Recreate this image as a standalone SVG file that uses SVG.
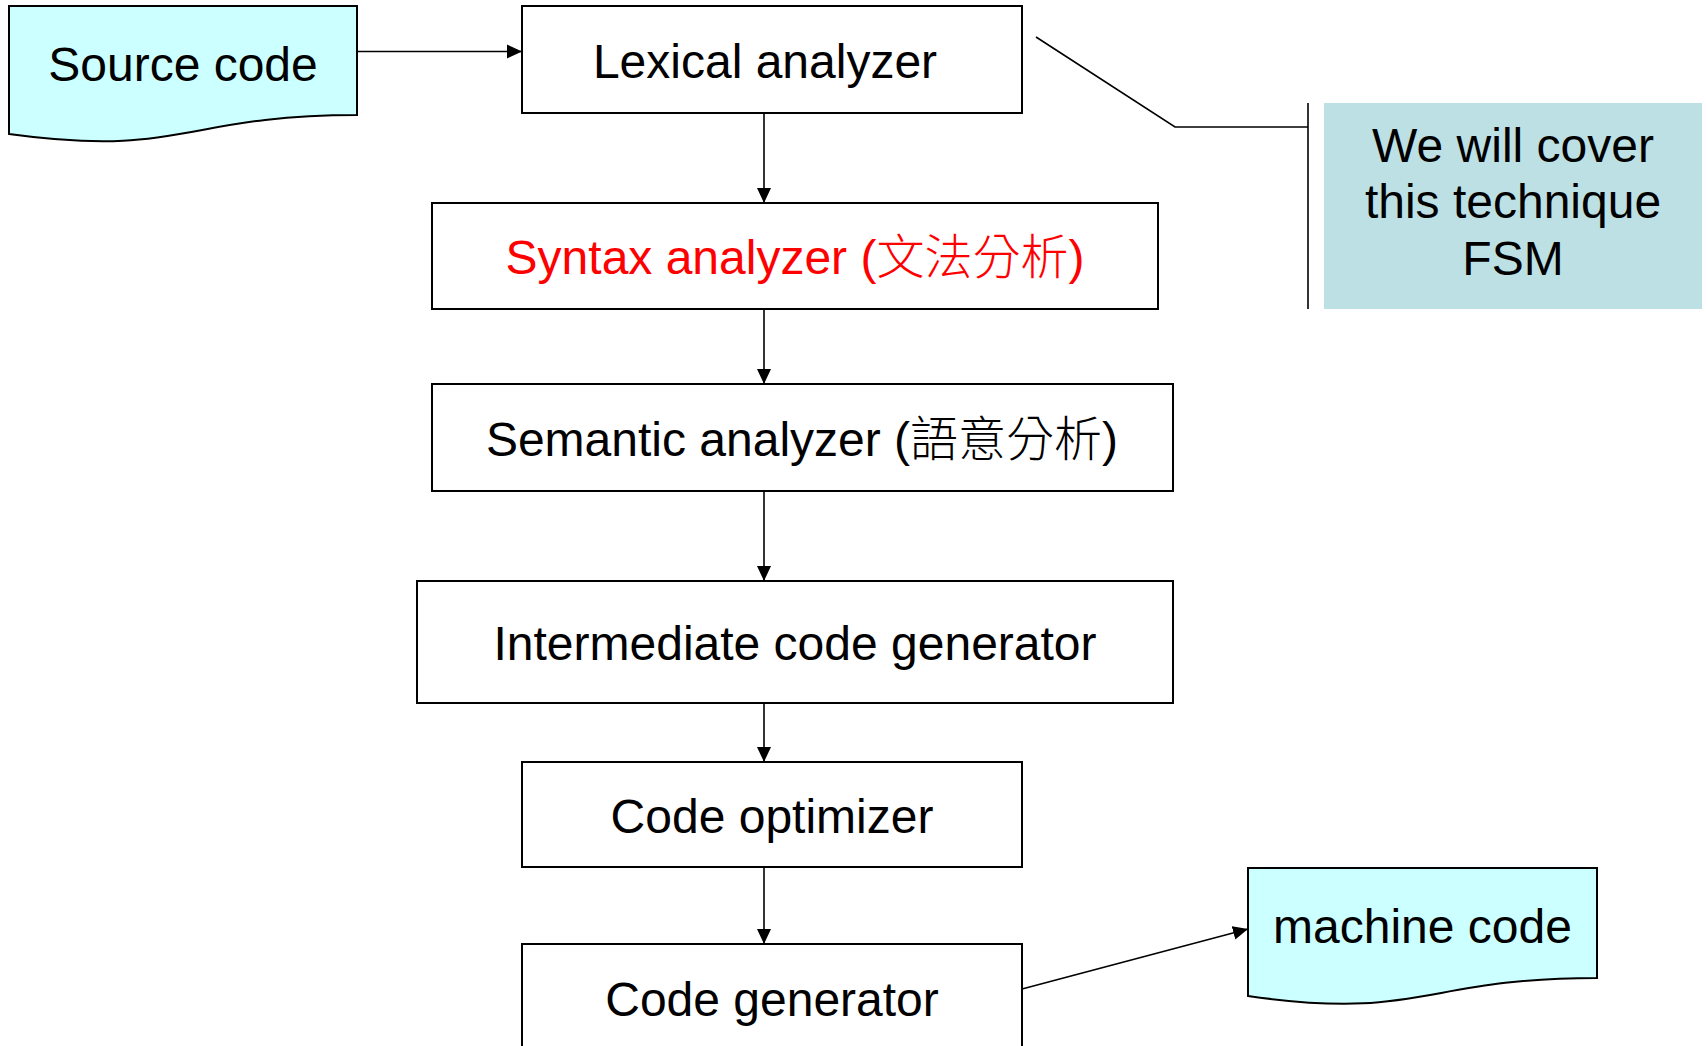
<svg xmlns="http://www.w3.org/2000/svg" width="1708" height="1046" viewBox="0 0 1708 1046">
  <style>
    .box { fill: #ffffff; stroke: #000000; stroke-width: 2; }
    .doc { fill: #ccffff; stroke: #000000; stroke-width: 2; }
    .note { fill: #bce0e4; stroke: none; }
    .lbl { font-family: "Liberation Sans", Arial, "Noto Sans CJK TC", sans-serif; font-size: 48px; fill: #000000; text-anchor: middle; }
    .cjk { font-family: "Noto Sans CJK TC", "Noto Sans CJK SC", sans-serif; font-weight: 300; }
    .red { fill: #ff0000; }
    .conn { fill: none; stroke: #000000; stroke-width: 1.6; }
  </style>
  <defs>
    <marker id="arrow" markerUnits="userSpaceOnUse" markerWidth="16" markerHeight="16" viewBox="0 0 16 16" refX="15" refY="8" orient="auto">
      <path d="M0,1 L15,8 L0,15 Z" fill="#000000"/>
    </marker>
  </defs>

  <rect width="1708" height="1046" fill="#ffffff"/>

  <!-- connectors -->
  <g id="connectors">
    <line class="conn" x1="357" y1="51.5" x2="522" y2="51.5" marker-end="url(#arrow)"/>
    <line class="conn" x1="764" y1="113" x2="764" y2="203" marker-end="url(#arrow)"/>
    <line class="conn" x1="764" y1="309" x2="764" y2="384" marker-end="url(#arrow)"/>
    <line class="conn" x1="764" y1="491" x2="764" y2="581" marker-end="url(#arrow)"/>
    <line class="conn" x1="764" y1="703" x2="764" y2="762" marker-end="url(#arrow)"/>
    <line class="conn" x1="764" y1="867" x2="764" y2="944" marker-end="url(#arrow)"/>
    <line class="conn" x1="1022" y1="989" x2="1248" y2="929" marker-end="url(#arrow)"/>
    <!-- callout leader and bracket -->
    <polyline class="conn" points="1036,37 1175,127 1308,127"/>
    <line class="conn" x1="1308" y1="103" x2="1308" y2="309"/>
  </g>

  <!-- input document -->
  <g id="source-code">
    <path class="doc" d="M9,6 H357 V115 C183,115 183,158 9,134 Z"/>
    <text class="lbl" x="183" y="81">Source code</text>
  </g>

  <g id="lexical-analyzer">
    <rect class="box" x="522" y="6" width="500" height="107"/>
    <text class="lbl" x="765" y="78">Lexical analyzer</text>
  </g>

  <g id="syntax-analyzer">
    <rect class="box" x="432" y="203" width="726" height="106"/>
    <text class="lbl red" x="795" y="274">Syntax analyzer (<tspan class="cjk">文法分析</tspan>)</text>
  </g>

  <g id="semantic-analyzer">
    <rect class="box" x="432" y="384" width="741" height="107"/>
    <text class="lbl" x="802" y="456">Semantic analyzer (<tspan class="cjk">語意分析</tspan>)</text>
  </g>

  <g id="intermediate-code-generator">
    <rect class="box" x="417" y="581" width="756" height="122"/>
    <text class="lbl" x="795" y="660">Intermediate code generator</text>
  </g>

  <g id="code-optimizer">
    <rect class="box" x="522" y="762" width="500" height="105"/>
    <text class="lbl" x="772" y="833">Code optimizer</text>
  </g>

  <g id="code-generator">
    <rect class="box" x="522" y="944" width="500" height="120"/>
    <text class="lbl" x="772" y="1016">Code generator</text>
  </g>

  <!-- output document -->
  <g id="machine-code">
    <path class="doc" d="M1248,868 H1597 V978 C1422.5,978 1422.5,1021 1248,996 Z"/>
    <text class="lbl" x="1422.5" y="943">machine code</text>
  </g>

  <!-- side note -->
  <g id="note-fsm">
    <rect class="note" x="1324" y="103" width="378" height="206"/>
    <text class="lbl" x="1513" y="162">We will cover</text>
    <text class="lbl" x="1513" y="218">this technique</text>
    <text class="lbl" x="1513" y="275">FSM</text>
  </g>
</svg>
